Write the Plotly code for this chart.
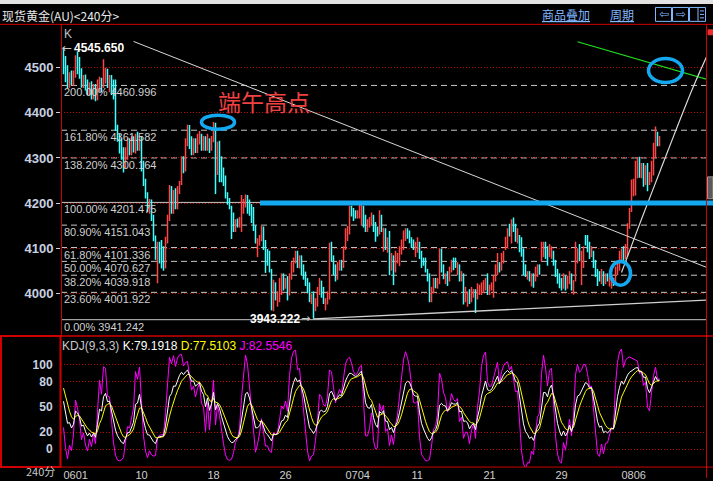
import plotly.graph_objects as go

W, H = 713, 481

# ---------------- data (240-minute bars) ----------------
opens = [
 4545,4520,4500,4460,4490,4466,4482,4532,4520,4495,
 4460,4480,4470,4445,4465,4435,4460,4432,4450,4475,
 4460,4470,4495,4450,4480,4470,4470,4370,4350,4340,
 4320,4280,4300,4340,4310,4345,4315,4355,4320,4345,
 4290,4250,4220,4180,4205,4170,4125,4070,4110,4115,
 4100,4060,4115,4165,4235,4180,4230,4190,4225,4245,
 4300,4275,4330,4370,4345,4310,4340,4315,4335,4350,
 4320,4345,4320,4340,4320,4340,4375,4270,4335,4300,
 4276,4258,4220,4208,4190,4175,4140,4162,4150,4140,
 4180,4195,4215,4205,4195,4188,4148,4095,4110,4120,
 4145,4115,4095,4090,4050,3965,4020,3975,3985,4000,
 4040,4015,4035,4000,4035,4050,4070,4090,4060,4080,
 4060,4045,4030,4020,3980,4000,3965,3975,4000,4025,
 4010,3965,3980,3990,4110,4080,4060,4035,4055,4070,
 4060,4100,4120,4135,4190,4185,4180,4170,4170,4160,
 4190,4170,4140,4150,4155,4170,4155,4145,4135,4170,
 4100,4140,4095,4135,4055,4080,4050,4070,4065,4090,
 4100,4120,4140,4135,4120,4115,4085,4095,4110,4090,
 4075,4075,4050,4040,3985,4005,4030,4015,4025,4095,
 4060,4025,4045,4030,4050,4075,4075,4045,4060,4030,
 4040,3985,3975,4005,3985,3995,4005,3990,4000,4000,
 4005,4010,4040,4000,4010,3995,4030,4045,4065,4055,
 4070,4100,4105,4150,4115,4165,4150,4115,4125,4120,
 4095,4060,4035,4045,4020,4040,4030,4040,4060,4075,
 4085,4110,4100,4085,4080,4090,4070,4050,4040,4030,
 4015,4035,4015,4025,4040,4005,4030,4070,4105,4020,
 4060,4125,4125,4110,4085,4090,4070,4050,4045,4025,
 4045,4025,4040,4020,4015,4030,4025,4045,4055,4075,
 4100,4080,4085,4150,4185,4220,4230,4260,4300,4260,
 4285,4245,4285,4245,4250,4275,4305,4355,4330]

highs = [
 4545.65,4526,4506,4490,4494,4494,4528,4536,4524,4499,
 4484,4485,4474,4468,4470,4464,4464,4474,4480,4478,
 4519,4500,4498,4484,4484,4474,4474,4374,4354,4344,
 4324,4324,4344,4344,4348,4348,4354,4358,4349,4348,
 4294,4254,4224,4209,4208,4174,4128,4114,4114,4118,
 4104,4125,4174,4240,4238,4229,4233,4238,4249,4304,
 4304,4344,4374,4373,4348,4344,4344,4354,4360,4354,
 4349,4348,4354,4344,4349,4380,4378,4336,4338,4304,
 4279,4261,4224,4211,4194,4179,4164,4166,4169,4218,
 4209,4219,4218,4208,4198,4191,4151,4122,4129,4150,
 4148,4118,4098,4094,4054,4030,4024,4004,4034,4044,
 4044,4034,4038,4044,4069,4079,4094,4094,4084,4084,
 4064,4048,4034,4024,3999,4004,3989,4014,4034,4028,
 4014,3989,4004,4112,4114,4084,4064,4069,4074,4074,
 4104,4144,4149,4194,4194,4189,4184,4184,4199,4199,
 4194,4174,4164,4169,4179,4174,4158,4148,4184,4174,
 4145,4144,4124,4138,4089,4084,4094,4089,4104,4119,
 4139,4144,4144,4139,4124,4119,4114,4124,4114,4094,
 4079,4079,4054,4044,4014,4034,4034,4034,4099,4099,
 4064,4044,4049,4059,4074,4079,4079,4069,4064,4049,
 4044,4014,4004,4009,4014,4009,4009,4022,4019,4024,
 4029,4034,4044,4019,4024,4039,4064,4089,4069,4089,
 4094,4125,4144,4154,4164,4168,4154,4144,4129,4124,
 4099,4064,4049,4049,4044,4044,4059,4064,4064,4114,
 4114,4114,4104,4109,4104,4094,4074,4054,4044,4034,
 4044,4039,4039,4049,4044,4029,4114,4099,4109,4094,
 4104,4129,4129,4114,4104,4094,4074,4054,4049,4054,
 4049,4044,4044,4039,4034,4034,4059,4069,4094,4099,
 4104,4109,4155,4189,4252,4254,4294,4302,4303,4289,
 4289,4284,4289,4269,4294,4334,4370,4358,4349]

lows = [
 4486,4468,4455,4456,4462,4460,4478,4486,4476,4456,
 4455,4450,4440,4440,4430,4430,4426,4428,4446,4446,
 4455,4465,4455,4446,4440,4430,4360,4336,4310,4296,
 4268,4276,4296,4306,4306,4312,4310,4316,4316,4270,
 4238,4210,4180,4176,4160,4115,4074,4022,4066,4055,
 4050,4055,4110,4160,4176,4176,4186,4186,4220,4240,
 4266,4270,4326,4320,4306,4306,4311,4311,4330,4316,
 4316,4316,4316,4311,4316,4335,4220,4262,4246,4246,
 4238,4210,4196,4186,4120,4136,4136,4146,4146,4136,
 4176,4190,4176,4172,4156,4138,4110,4080,4106,4115,
 4096,4045,4061,4046,3962,3960,3984,3970,3980,3996,
 4006,4010,3984,3995,4030,4046,4066,4056,4055,4040,
 4030,4016,4000,3980,3976,3943.222,3960,3970,3996,3990,
 3976,3962,3975,3986,4070,4040,4026,4030,4050,4050,
 4056,4096,4116,4130,4170,4160,4166,4166,4166,4150,
 4146,4136,4136,4146,4150,4136,4114,4126,4130,4136,
 4092,4096,4090,4040,4050,4018,4046,4066,4060,4086,
 4096,4116,4121,4111,4101,4096,4080,4090,4076,4056,
 4061,4046,4026,3980,3980,4000,4011,4010,4020,4046,
 4031,4020,4016,4026,4046,4051,4056,4040,4026,4026,
 3975,3980,3970,3976,3980,3990,3956,3986,3996,3996,
 4000,4006,3996,3996,4006,3990,4026,4040,4046,4050,
 4066,4096,4100,4126,4110,4136,4114,4110,4091,4081,
 4040,4036,4030,4026,4015,4012,4026,4036,4041,4070,
 4080,4076,4061,4080,4076,4061,4036,4021,4011,4006,
 4010,4006,4010,4020,4006,3997,4026,4066,4071,4018,
 4056,4106,4091,4076,4080,4056,4036,4016,4026,4020,
 4016,4020,4026,4015,4010,4016,4020,4040,4050,4070,
 4071,4076,4081,4143,4180,4215,4217,4255,4256,4255,
 4236,4240,4226,4240,4246,4261,4300,4326,4326]

closes = [
 4492,4478,4462,4485,4466,4490,4524,4490,4480,4460,
 4480,4455,4445,4465,4435,4460,4430,4470,4475,4450,
 4515,4495,4460,4480,4445,4435,4365,4340,4315,4300,
 4275,4320,4340,4310,4345,4315,4350,4320,4345,4285,
 4245,4215,4185,4205,4165,4120,4080,4110,4070,4060,
 4055,4115,4170,4235,4180,4225,4190,4235,4245,4300,
 4270,4340,4370,4325,4310,4340,4315,4350,4355,4320,
 4345,4320,4350,4315,4345,4376,4228,4330,4280,4250,
 4242,4215,4200,4190,4125,4140,4160,4150,4165,4215,
 4205,4215,4190,4175,4160,4142,4115,4115,4125,4145,
 4100,4050,4065,4050,3970,4025,3990,4000,4030,4040,
 4010,4030,3990,4040,4065,4075,4090,4060,4080,4045,
 4035,4020,4005,3985,3995,3960,3985,4010,4030,3995,
 3980,3985,4000,4105,4075,4045,4030,4065,4070,4055,
 4100,4140,4145,4190,4175,4165,4170,4180,4195,4195,
 4150,4140,4160,4165,4175,4140,4125,4130,4180,4140,
 4140,4100,4120,4045,4085,4030,4090,4085,4100,4115,
 4135,4140,4125,4115,4105,4100,4110,4120,4080,4060,
 4065,4050,4030,3985,4010,4030,4015,4030,4095,4050,
 4035,4040,4020,4055,4070,4055,4060,4065,4030,4045,
 3985,4010,4000,3980,4010,4005,3965,4018,4015,4020,
 4025,4030,4000,4015,4020,4035,4060,4085,4050,4085,
 4090,4121,4140,4130,4160,4140,4125,4140,4095,4085,
 4045,4040,4045,4030,4040,4015,4055,4060,4045,4110,
 4110,4080,4065,4105,4100,4065,4040,4025,4015,4010,
 4040,4010,4035,4045,4010,4025,4110,4095,4075,4090,
 4100,4110,4095,4080,4100,4060,4040,4020,4030,4050,
 4020,4040,4030,4035,4030,4020,4055,4065,4090,4095,
 4075,4105,4150,4185,4245,4250,4290,4298,4260,4285,
 4240,4280,4235,4265,4290,4330,4365,4330,4345]

n = min(len(opens), len(highs), len(lows), len(closes))
opens, highs, lows, closes = opens[:n], highs[:n], lows[:n], closes[:n]
bars = list(range(n))

price_ticks = [4000, 4100, 4200, 4300, 4400, 4500]
kdj_ticks = [0, 20, 50, 80, 100]
date_tick_bars = [0, 36, 72, 108, 141, 174, 210, 246, 279]
date_tick_labels = ["0601", "10", "18", "26", "0704", "11", "21", "29", "0806"]

fib_pcts = ["200.00%", "161.80%", "138.20%", "100.00%", "80.90%",
            "61.80%", "50.00%", "38.20%", "23.60%", "0.00%"]
fib_values = [4460.996, 4361.582, 4300.164, 4201.475, 4151.043,
              4101.336, 4070.627, 4039.918, 4001.922, 3941.242]

high_label = "4545.650"
low_label = "3943.222"
kdj_last = ["79.1918", "77.5103", "82.5546"]
kdj_seed = 80.0          # K and D level at the first bar

# drawn trend lines (bar index, price)
down_x, down_y = [35, 321.5], [4558.6, 4057.4]
support_x, support_y = [125, 321.5], [3943.2, 3984.5]
green_x, green_y = [257, 322], [4558, 4474]
rise_x = [279, 286.5, 293.5, 305, 315, 322]
rise_y = [4046, 4135, 4216, 4348, 4459, 4529]
blue_level = 4200
ellipses = [  # x0, x1, y0, y1 in bar index / price
    (69, 85.5, 4364, 4395),
    (292.5, 309.5, 4467.6, 4520.5),
    (273.5, 283.5, 4017.7, 4070.6),
]

# ---------------- KDJ(9,3,3) from the bars ----------------
K, D, J = [], [], []
kp, dp = kdj_seed, kdj_seed
for i in range(n):
    lo = min(lows[max(0, i - 8):i + 1])
    hi = max(highs[max(0, i - 8):i + 1])
    rsv = (closes[i] - lo) / (hi - lo) * 100 if hi > lo else 50
    kp = kp * 2 / 3 + rsv / 3
    dp = dp * 2 / 3 + kp / 3
    K.append(kp)
    D.append(dp)
    J.append(3 * kp - 2 * dp)

# ---------------- styling ----------------
RED = "#ff4646"
CYAN = "#3cffff"
GRID = "#c00000"
BORDER = "#d00000"
BLUE = "#14a8f0"
AXTXT = "#c8d0e0"
FONT = "Liberation Sans"
CJK = "Noto Sans CJK SC"


def px(x):
    return x / W


def py(y):
    return 1 - y / H


fig = go.Figure()
fig.add_trace(go.Ohlc(
    x=bars, open=opens, high=highs, low=lows, close=closes,
    tickwidth=0, line=dict(width=1.5),
    increasing=dict(line=dict(color=RED, width=1.5)),
    decreasing=dict(line=dict(color=CYAN, width=1.5)),
    hoverinfo="skip", xaxis="x", yaxis="y", showlegend=False))

line_style = dict(mode="lines", hoverinfo="skip", showlegend=False, xaxis="x", yaxis="y")
fig.add_trace(go.Scatter(x=down_x, y=down_y, line=dict(color="#d8d8d8", width=1), **line_style))
fig.add_trace(go.Scatter(x=support_x, y=support_y, line=dict(color="#d0d0d0", width=1.3), **line_style))
fig.add_trace(go.Scatter(x=green_x, y=green_y, line=dict(color="#20e020", width=1.2), **line_style))
fig.add_trace(go.Scatter(x=rise_x, y=rise_y, line=dict(color="#d8d8d8", width=1.2, shape="spline"), **line_style))

kdj_style = dict(mode="lines", hoverinfo="skip", showlegend=False, xaxis="x2", yaxis="y2")
fig.add_trace(go.Scatter(x=bars, y=J, line=dict(color="#ff00ff", width=1), **kdj_style))
fig.add_trace(go.Scatter(x=bars, y=D, line=dict(color="#ffff00", width=1), **kdj_style))
fig.add_trace(go.Scatter(x=bars, y=K, line=dict(color="#ffffff", width=1), **kdj_style))

xr = [-1.25, 321.25]
xdom = [px(61), px(706)]

shapes = []
# fibonacci levels
for pct, v in zip(fib_pcts, fib_values):
    solid = pct in ("100.00%", "0.00%")
    shapes.append(dict(type="line", xref="x domain", x0=0, x1=1, yref="y", y0=v, y1=v,
                       layer="below",
                       line=dict(color="#c8c8c8", width=1, dash="solid" if solid else "6px,4px")))
# thick blue level line
shapes.append(dict(type="line", xref="paper", x0=px(260), x1=1.0, yref="y",
                   y0=blue_level, y1=blue_level, line=dict(color=BLUE, width=5)))
# blue ellipses
for (x0, x1, y0, y1) in ellipses:
    shapes.append(dict(type="circle", xref="x", yref="y", x0=x0, x1=x1, y0=y0, y1=y1,
                       line=dict(color=BLUE, width=3.5)))


def pline(x0, y0, x1, y1, color=BORDER, width=1):
    return dict(type="line", xref="paper", yref="paper", x0=px(x0), x1=px(x1),
                y0=py(y0), y1=py(y1), line=dict(color=color, width=width))


def prect(x0, y0, x1, y1, fill="rgba(0,0,0,0)", color=BORDER, width=1):
    return dict(type="rect", xref="paper", yref="paper", x0=px(x0), x1=px(x1),
                y0=py(y0), y1=py(y1), fillcolor=fill, line=dict(color=color, width=width))


shapes += [
    prect(0, 0, 713, 4, fill="#e2e2e2", color="#e2e2e2", width=0),
    pline(0, 24.5, 713, 24.5),
    pline(61.5, 24.5, 61.5, 338),
    pline(0, 338, 713, 338, width=1.5),
    prect(1, 338, 60.5, 470, width=2),
    pline(0, 470, 713, 470),
    pline(706.5, 24.5, 706.5, 481),
    prect(708, 30, 713, 35, fill="#e83030", color="#e83030"),
    prect(707.5, 178, 713, 200, fill="#5a5a5a", color="#9a9a9a"),
    # toolbar buttons
    prect(655.5, 7.5, 671.5, 21.5, color="#80b8ff"),
    prect(672.5, 7.5, 688.5, 21.5, color="#80b8ff"),
    prect(689.5, 7.5, 705.5, 21.5, color="#80b8ff"),
    pline(698, 8, 698, 21, color="#80b8ff"),
    pline(700, 11, 704, 11, color="#80b8ff"),
    pline(700, 14.5, 704, 14.5, color="#80b8ff"),
    pline(700, 18, 704, 18, color="#80b8ff"),
]


def ann(text, x, y, size=12, color="#c8c8c8", xanchor="left", family=FONT):
    return dict(text=text, x=px(x), y=py(y), xref="paper", yref="paper", showarrow=False,
                xanchor=xanchor, yanchor="middle", borderpad=0,
                font=dict(size=size, color=color, family=family))


annotations = [
    ann("现货黄金(AU)<240分>", 1, 16, size=12, color="#e8e8e8", family=CJK),
    ann("<u>商品叠加</u>", 541, 15, size=12, color="#80b8ff", family=CJK),
    ann("<u>周期</u>", 609, 15, size=12, color="#80b8ff", family=CJK),
    ann("⇦", 663.5, 14.5, size=12, color="#80b8ff", xanchor="center", family="DejaVu Sans"),
    ann("⇨", 680.5, 14.5, size=12, color="#80b8ff", xanchor="center", family="DejaVu Sans"),
    ann("K", 63, 34, size=12, color="#c0c0c0"),
    ann("←", 61, 48, size=12, color="#c8c8c8", family="DejaVu Sans"),
    ann("<b>" + high_label + "</b>", 73, 48, size=12, color="#ffffff"),
    ann("<b>" + low_label + "</b>", 301, 321, size=12, color="#ffffff", xanchor="right"),
    ann("→", 300, 321, size=11, color="#c8c8c8", family="DejaVu Sans"),
    ann("端午高点", 264, 102, size=23, color="#f04040", xanchor="center", family=CJK),
    ann("KDJ(9,3,3) <span style='color:#ffffff'>K:" + kdj_last[0] + "</span> "
        "<span style='color:#ffff00'>D:" + kdj_last[1] + "</span> "
        "<span style='color:#ff00ff'>J:" + kdj_last[2] + "</span>",
        61, 348, size=12, color="#c8c8c8"),
    ann("240分", 25, 474, size=11, color="#c8c8c8", family=CJK),
]
for pct, v in zip(fib_pcts, fib_values):
    annotations.append(dict(text=pct + " " + f"{v:.3f}", x=px(63), y=v, xref="paper", yref="y",
                            yshift=-7, showarrow=False, xanchor="left", yanchor="middle",
                            borderpad=0, font=dict(size=11, color="#d0d0d0", family=FONT)))

fig.update_layout(
    width=W, height=H, autosize=False,
    margin=dict(l=0, r=0, t=0, b=0, pad=0),
    paper_bgcolor="#000000", plot_bgcolor="rgba(0,0,0,0)",
    hovermode=False, showlegend=False,
    font=dict(family=FONT, color="#c8c8c8", size=12),
    xaxis=dict(domain=xdom, range=xr, anchor="y", showticklabels=False, showgrid=False,
               zeroline=False, showline=False, ticks="", fixedrange=True,
               rangeslider=dict(visible=False)),
    yaxis=dict(domain=[py(337), py(25)], range=[3907.5, 4595.4], anchor="x",
               tickvals=price_ticks, ticktext=[str(t) for t in price_ticks],
               tickfont=dict(size=13, color=AXTXT, family=FONT, weight="bold"),
               ticks="outside", ticklen=4, tickcolor=AXTXT, showgrid=True, gridcolor=GRID,
               griddash="1px,2px", gridwidth=1, zeroline=False, showline=False, fixedrange=True),
    xaxis2=dict(domain=xdom, range=xr, anchor="y2", tickvals=date_tick_bars,
                ticktext=date_tick_labels, ticks="", ticklabelposition="outside right",
                tickfont=dict(size=11, color="#d0d0d0", family=FONT),
                showgrid=False, zeroline=False, showline=False, fixedrange=True),
    yaxis2=dict(domain=[py(470), py(339)], range=[-21.2, 132.9], anchor="x2",
                tickvals=kdj_ticks, ticktext=[str(t) for t in kdj_ticks],
                tickfont=dict(size=12, color=AXTXT, family=FONT, weight="bold"),
                ticks="outside", ticklen=5, tickcolor="rgba(0,0,0,0)", showgrid=True,
                gridcolor=GRID, griddash="1px,2px", gridwidth=1, zeroline=False,
                showline=False, fixedrange=True),
    shapes=shapes,
    annotations=annotations,
)

fig.write_html("out.html", config={"displayModeBar": False, "staticPlot": True},
               post_script="document.body.style.margin='0';document.body.style.background='#000';"
                           "document.body.style.overflow='hidden';")
